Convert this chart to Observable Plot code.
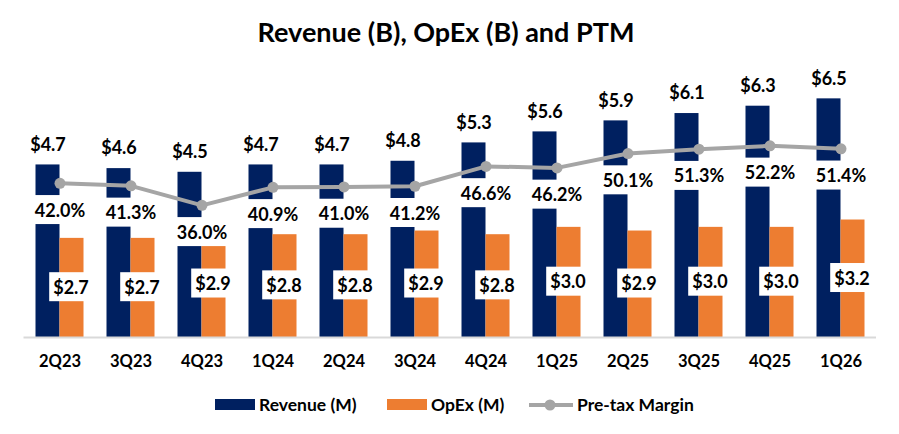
<!DOCTYPE html>
<html>
<head>
<meta charset="utf-8">
<script src="https://cdn.jsdelivr.net/npm/d3@7"></script>
<script src="https://cdn.jsdelivr.net/npm/@observablehq/plot@0.6"></script>
<style>
  html, body { margin: 0; padding: 0; background: #fff; }
  body { width: 899px; height: 434px; position: relative; overflow: hidden; font-family: Lato, "Open Sans", sans-serif; color: #000; }
  #title { position: absolute; left: 0; top: 13px; width: 892px; text-align: center; font-weight: 700; font-size: 27px; line-height: 38px; }
  #chart { position: absolute; left: 0; top: 60px; }
  #legend { position: absolute; left: 0; top: 394px; width: 899px; height: 22px; font-weight: 700; font-size: 17.5px; }
  .li { position: absolute; top: 0; height: 22px; line-height: 22px; white-space: nowrap; }
  .sw { position: absolute; top: 5px; width: 40px; height: 11px; }
</style>
</head>
<body>
<div id="title">Revenue (B), OpEx (B) and PTM</div>
<div id="chart"></div>
<div id="legend">
  <div class="sw" style="left:215px;background:#002060"></div>
  <div class="li" style="left:259px">Revenue (M)</div>
  <div class="sw" style="left:387px;background:#ED7D31"></div>
  <div class="li" style="left:431px">OpEx (M)</div>
  <svg style="position:absolute;left:529px;top:0" width="44" height="22"><line x1="0" y1="11" x2="44" y2="11" stroke="#A5A5A5" stroke-width="4"/><circle cx="21" cy="11" r="5.5" fill="#A5A5A5"/></svg>
  <div class="li" style="left:577px">Pre-tax Margin</div>
</div>
<script>
const quarters = ["2Q23","3Q23","4Q23","1Q24","2Q24","3Q24","4Q24","1Q25","2Q25","3Q25","4Q25","1Q26"];
const revenue  = [4.7, 4.6, 4.5, 4.7, 4.7, 4.8, 5.3, 5.6, 5.9, 6.1, 6.3, 6.5];
const opex     = [2.7, 2.7, 2.9, 2.8, 2.8, 2.9, 2.8, 3.0, 2.9, 3.0, 3.0, 3.2];
const margin   = [42.0, 41.3, 36.0, 40.9, 41.0, 41.2, 46.6, 46.2, 50.1, 51.3, 52.2, 51.4];

const data = quarters.map((q, i) => ({q, rev: revenue[i], opex: opex[i], pm: margin[i]}));

const NAVY = "#002060", ORANGE = "#ED7D31", GRAY = "#A5A5A5";

const chart = Plot.plot({
  width: 899,
  height: 320,
  marginLeft: 23.5,
  marginRight: 23,
  marginTop: 20,
  marginBottom: 43,
  style: {fontFamily: "Lato, 'Open Sans', sans-serif", background: "transparent"},
  x: {type: "band", domain: quarters, padding: 0, axis: null, label: null},
  y: {domain: [0, 7], axis: null},
  marks: [
    Plot.barY(data, {x: "q", y: "rev", fill: NAVY, insetLeft: 11.5, insetRight: 35.5}),
    Plot.barY(data, {x: "q", y: "opex", fill: ORANGE, insetLeft: 35.5, insetRight: 11.5}),
    Plot.ruleY([0], {stroke: "#D9D9D9", strokeWidth: 2}),
    Plot.axisX({tickSize: 0, tickPadding: 18, fontSize: 16.5, fontWeight: "bold", fill: "#000", label: null}),
    Plot.line(data, {x: "q", y: d => d.pm / 10, stroke: GRAY, strokeWidth: 4}),
    Plot.dot(data, {x: "q", y: d => d.pm / 10, r: 5.5, fill: GRAY}),
    Plot.text(data, {x: "q", y: "rev", text: d => "$" + d.rev.toFixed(1), dx: -12, dy: -20,
      fontSize: 18, fontWeight: "bold", fill: "#000"}),
    Plot.text(data, {x: "q", y: d => d.pm / 10, text: d => d.pm.toFixed(1) + "%", dy: 27.5,
      fontSize: 18, fontWeight: "bold", fill: "#000", className: "boxed"}),
    Plot.text(data, {x: "q", y: d => d.opex / 2, text: d => "$" + d.opex.toFixed(1), dx: 11, dy: 0,
      fontSize: 18, fontWeight: "bold", fill: "#000", className: "boxed"})
  ]
});
document.getElementById("chart").appendChild(chart);

// white label boxes behind boxed labels
chart.querySelectorAll("g.boxed text").forEach(t => {
  const b = t.getBBox();
  const r = document.createElementNS("http://www.w3.org/2000/svg", "rect");
  const padX = 4, h = 29;
  r.setAttribute("x", b.x - padX);
  r.setAttribute("y", b.y + b.height / 2 - h / 2);
  r.setAttribute("width", b.width + 2 * padX);
  r.setAttribute("height", h);
  r.setAttribute("fill", "#fff");
  const tr = t.getAttribute("transform");
  if (tr) r.setAttribute("transform", tr);
  t.parentNode.insertBefore(r, t);
});
</script>
</body>
</html>
